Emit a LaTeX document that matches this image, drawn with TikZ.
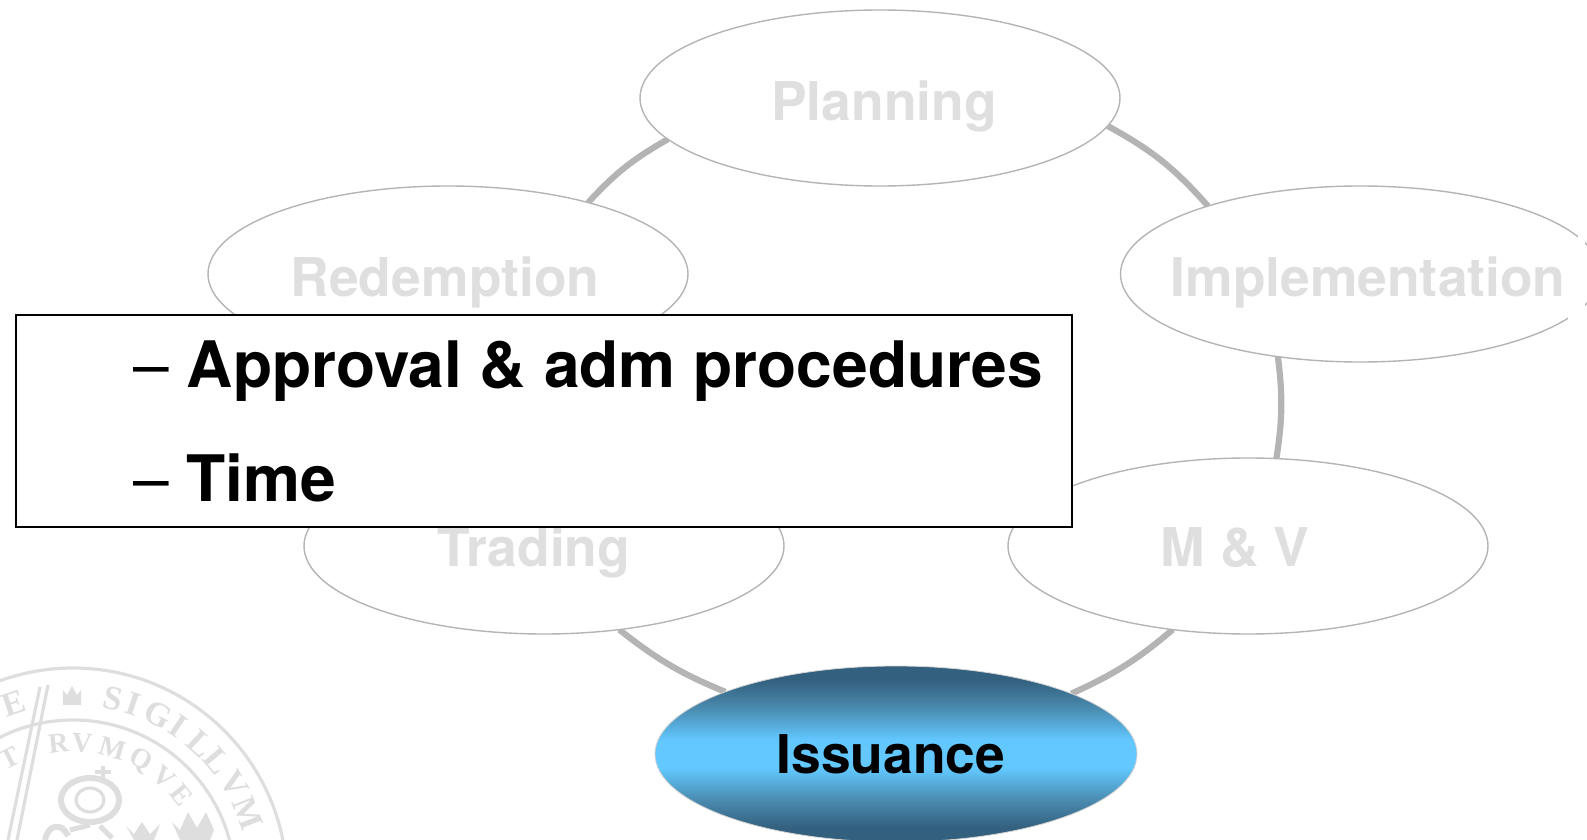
\documentclass[tikz,border=0pt]{standalone}
\usepackage{fontspec}
\setmainfont{TeX Gyre Heros}
\newfontfamily\sealfont{Liberation Serif}
\usetikzlibrary{shapes.geometric,backgrounds}
\definecolor{ringgray}{HTML}{B4B4B4}
\definecolor{labelgray}{HTML}{DFDFDF}
\definecolor{sealgray}{HTML}{DEDEDE}
\definecolor{shadedark}{HTML}{33607E}
\definecolor{shademid}{HTML}{4A8BB0}
\definecolor{shadelight}{HTML}{62C8FF}
\pgfdeclareverticalshading{issuanceshade}{100bp}{
  color(0bp)=(shadedark); color(29bp)=(shadedark); color(37bp)=(shademid);
  color(46bp)=(shadelight); color(54bp)=(shadelight);
  color(63bp)=(shademid); color(71bp)=(shadedark); color(100bp)=(shadedark)}
\tikzset{
  x=0.5pt,y=-0.5pt,
  phase/.style={ellipse,draw=ringgray,line width=0.7pt,fill=white,minimum width=240pt,minimum height=88pt,inner sep=0pt,outer sep=0pt},
  active/.style={ellipse,draw=ringgray!60!white,line width=0.4pt,minimum width=241pt,minimum height=88pt,inner sep=0pt,outer sep=0pt,shading=issuanceshade},
  phaselabel/.style={anchor=base,inner sep=0pt,text=labelgray,font=\fontsize{26.7}{30}\selectfont\bfseries},
  ring/.style={draw=ringgray,line width=3.1pt},
  sealline/.style={draw=sealgray,line width=1.6pt},
  sealouter/.style={text=sealgray,inner sep=0pt,font=\sealfont\bfseries\fontsize{17}{17}\selectfont},
  sealinner/.style={text=sealgray,inner sep=0pt,font=\sealfont\bfseries\fontsize{14}{14}\selectfont},
  boxtext/.style={anchor=base west,inner sep=0pt,text=black,font=\fontsize{32.05}{36}\selectfont\bfseries},
  boxdash/.style={anchor=base west,inner sep=0pt,text=black,font=\fontsize{32.05}{36}\selectfont},
}
\begin{document}
\begin{tikzpicture}
\useasboundingbox (0,0) rectangle (1587,840);
% phases
\node[phase] (planning) at (880,98) {};
\node[phase] (impl) at (1360.5,274) {};
\node[phase] (mv) at (1248,546) {};
\node[active] (issuance) at (896,754) {};
\node[phase] (trading) at (544,546) {};
\node[phase] (redemption) at (448,274) {};
\node[phaselabel] (lplanning) at (884,120.5) {Planning};
\node[phaselabel] (limpl) at (1368,296) {Implementation};
\node[phaselabel] (lredemption) at (445,296) {Redemption};
\node[phaselabel] (ltrading) at (534,566) {Trading};
\node[phaselabel] (lmv) at (1235,566) {M \& V};
\node[phaselabel,text=black] (lissuance) at (891,773) {Issuance};
% gaps in the right end of the Implementation ellipse
\fill[white] (1578,232) rectangle (1585,244);
\fill[white] (1568,303) rectangle (1585,322);
\begin{pgfonlayer}{background}
  % seal
  \coordinate (sealc) at (73,882);
  \draw[sealline] (sealc) circle[radius=214];
  \draw[sealline] (sealc) circle[radius=162];
  \draw[sealline] (40,687) -- (8,840);
  \draw[sealline] (48,685) -- (17,840);
  \foreach \a/\l [count=\i] in {12.3/S,18.7/I,27/G,34/I,42.6/L,50/L,58.8/V,68.5/M,-18.5/E}
    \node[sealouter,rotate=-\a] (so\i) at ({73+188*sin(\a)},{882-188*cos(\a)}) {\l};
  \foreach \a/\l [count=\i] in {-27/T,-6/R,3.7/V,16.5/M,29/Q,41/V,51/E}
    \node[sealinner,rotate=-\a] (si\i) at ({73+139*sin(\a)},{882-139*cos(\a)}) {\l};
  % crown marks and crest
  \fill[sealgray] (63,690) -- (67,695) -- (72,686) -- (77,695) -- (81,690) -- (81,705) -- (63,705) -- cycle;
  \draw[sealgray,line width=3pt] (90,800) ellipse[x radius=29,y radius=22];
  \draw[sealline] (90,800) ellipse[x radius=14,y radius=12];
  \draw[sealgray,line width=2pt] (103,766) -- (103,782) (95,772) -- (111,772);
  \fill[sealgray] (172,822) -- (180,830) -- (188,812) -- (197,828) -- (206,812) -- (214,830) -- (210,840) -- (180,840) -- cycle;
  \fill[sealgray] (126,826) -- (134,834) -- (142,822) -- (150,834) -- (160,824) -- (154,840) -- (134,840) -- cycle;
  \draw[sealgray,line width=3pt] (45,840) .. controls (48,824) and (62,822) .. (68,836);
  \draw[sealgray,line width=2.5pt] (70,830) -- (90,825) (100,826) -- (112,838);
  % connectors
  \draw[ring] (planning.-7.3) to[bend left=10] (impl.156.3);
  \draw[ring] (impl.225.3) to[bend left=8] (mv.72.9);
  \draw[ring] (mv.228.6) to[bend left=8] (issuance.19.3);
  \draw[ring] (issuance.160.5) to[bend left=8] (trading.-48.6);
  \draw[ring] (trading.120) to[bend left=12] (redemption.-100);
  \draw[ring] (redemption.27) to[bend left=9] (planning.191.2);
\end{pgfonlayer}
% overlay box
\node[draw=black,line width=0.6pt,fill=white,minimum width=528pt,minimum height=106pt,inner sep=0pt,outer sep=0pt] (box) at (544,421) {};
\node[boxdash] (d1) at (133,387) {–};
\node[boxtext] (t1) at (186.5,387) {Approval \& adm procedures};
\node[boxdash] (d2) at (133,501) {–};
\node[boxtext] (t2) at (186,501) {Time};
\end{tikzpicture}
\end{document}
